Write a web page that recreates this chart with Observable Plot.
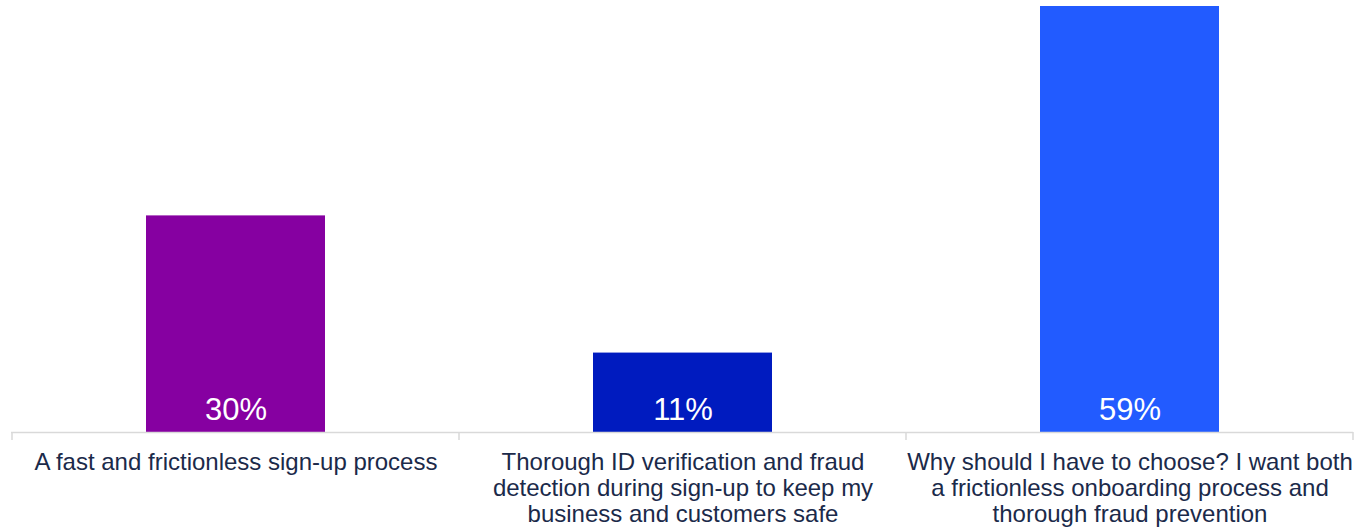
<!DOCTYPE html>
<html>
<head>
<meta charset="utf-8">
<script src="https://cdn.jsdelivr.net/npm/d3@7"></script>
<script src="https://cdn.jsdelivr.net/npm/@observablehq/plot@0.6"></script>
<style>
  html, body { margin: 0; padding: 0; background: #fff; }
  #chart svg { display: block; }
</style>
</head>
<body>
<div id="chart"></div>
<script>
const categories = [
  "A fast and frictionless sign-up process",
  "Thorough ID verification and fraud detection during sign-up to keep my business and customers safe",
  "Why should I have to choose? I want both a frictionless onboarding process and thorough fraud prevention"
];
const tickLabels = [
  "A fast and frictionless sign-up process",
  "Thorough ID verification and fraud\ndetection during sign-up to keep my\nbusiness and customers safe",
  "Why should I have to choose? I want both\na frictionless onboarding process and\nthorough fraud prevention"
];
const values = [30, 11, 59];
const colors = ["#8600a1", "#001bbf", "#225bff"];

const data = categories.map((c, i) => ({category: c, value: values[i], label: tickLabels[i]}));

const W = 1356, H = 530;
const plot = Plot.plot({
  width: W,
  height: H,
  marginLeft: 11,
  marginRight: 3,
  marginTop: 6,
  marginBottom: 98,
  style: {fontFamily: "'Liberation Sans', Arial, sans-serif", background: "#fff"},
  x: {domain: categories, padding: 0, axis: null},
  y: {domain: [0, 59], axis: null},
  color: {domain: categories, range: colors},
  marks: [
    Plot.barY(data, {x: "category", y: "value", fill: "category", insetLeft: 134, insetRight: 134}),
    Plot.ruleY([0], {stroke: "#d9d9d9", strokeWidth: 1.5}),
    Plot.text(data, {x: "category", y: 0, text: d => d.value + "%", fill: "#ffffff",
      fontSize: 31, lineAnchor: "top", dy: -34.7}),
    Plot.text(data, {x: "category", y: 0, text: "label", fill: "#1b2a4a",
      fontSize: 24, lineHeight: 26 / 24, lineAnchor: "top", dy: 19.5})
  ]
});

// category boundary ticks derived from the band scale
const xs = plot.scale("x");
const yScale = plot.scale("y");
const y0 = yScale.apply(0);
const bounds = categories.map(c => xs.apply(c));
bounds.push(xs.apply(categories[categories.length - 1]) + xs.bandwidth);
d3.select(plot).append("g")
  .selectAll("line").data(bounds).join("line")
  .attr("x1", d => d).attr("x2", d => d)
  .attr("y1", y0).attr("y2", y0 + 8)
  .attr("stroke", "#d9d9d9").attr("stroke-width", 1.5);

document.getElementById("chart").appendChild(plot);
</script>
</body>
</html>
